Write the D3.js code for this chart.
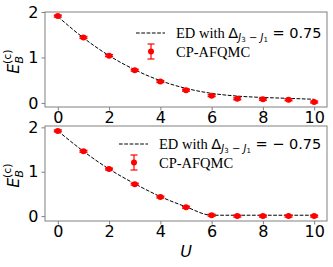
<!DOCTYPE html>
<html>
<head>
<meta charset="utf-8">
<script src="https://cdn.jsdelivr.net/npm/d3@7"></script>
<style>
  body { margin: 0; background: #fff; }
  text { fill: #000; }
</style>
</head>
<body>
<svg id="chart" width="333" height="267"></svg>
<script>
// --- data ---
const uValues = [0, 1, 2, 3, 4, 5, 6, 7, 8, 9, 10];

// Delta_{J3-J1} = 0.75
const edPos  = [1.90, 1.43, 1.04, 0.73, 0.49, 0.32, 0.21, 0.15, 0.12, 0.10, 0.08];
const qmcPos = [1.91, 1.44, 1.04, 0.72, 0.47, 0.28, 0.16, 0.09, 0.08, 0.07, 0.02];
const errPos = [0.02, 0.02, 0.02, 0.02, 0.02, 0.02, 0.02, 0.02, 0.02, 0.02, 0.02];

// Delta_{J3-J1} = -0.75
const edNeg  = [1.92, 1.46, 1.06, 0.73, 0.44, 0.21, 0.02, 0.02, 0.02, 0.02, 0.02];
const qmcNeg = [1.92, 1.46, 1.06, 0.72, 0.43, 0.20, 0.02, 0.00, 0.00, 0.00, 0.00];
const errNeg = [0.02, 0.02, 0.02, 0.02, 0.02, 0.02, 0.02, 0.02, 0.02, 0.02, 0.02];

const xTicks = [0, 2, 4, 6, 8, 10];
const yTicks = [0, 1, 2];

const svg = d3.select('#chart');
const frameColor = '#808080';
const sans = 'DejaVu Sans, sans-serif';
const serif = 'Liberation Serif, Times New Roman, serif';

function drawPanel(opt) {
  const { top, bottom, yDomain, ed, qmc, err, delta, legendTop, legendDx } = opt;
  const left = 45, right = 327;

  const x = d3.scaleLinear().domain([-0.5, 10.5]).range([left, right]);
  const y = d3.scaleLinear().domain(yDomain).range([bottom, top]);

  const g = svg.append('g');

  // axes
  const xAxis = g.append('g')
    .attr('transform', `translate(0,${bottom})`)
    .call(d3.axisBottom(x).tickValues(xTicks).tickFormat(d3.format('d')).tickSize(3.5).tickPadding(1.5));
  const yAxis = g.append('g')
    .attr('transform', `translate(${left},0)`)
    .call(d3.axisLeft(y).tickValues(yTicks).tickFormat(d3.format('d')).tickSize(3.5).tickPadding(3));
  [xAxis, yAxis].forEach(a => {
    a.select('.domain').remove();
    a.selectAll('line').attr('stroke', frameColor);
    a.selectAll('text')
      .style('font-family', sans)
      .style('font-size', '16px')
      .attr('fill', '#000');
  });

  // ED dashed curve
  const line = d3.line()
    .x((d, i) => x(uValues[i]))
    .y(d => y(d))
    .curve(d3.curveMonotoneX);
  g.append('path')
    .datum(ed)
    .attr('d', line)
    .attr('fill', 'none')
    .attr('stroke', '#000')
    .attr('stroke-width', 1)
    .attr('stroke-dasharray', '3.7,1.6');

  // CP-AFQMC points with error bars
  const pts = g.append('g').selectAll('g')
    .data(qmc)
    .join('g');
  pts.append('line')
    .attr('x1', (d, i) => x(uValues[i])).attr('x2', (d, i) => x(uValues[i]))
    .attr('y1', (d, i) => y(d - err[i])).attr('y2', (d, i) => y(d + err[i]))
    .attr('stroke', 'red').attr('stroke-width', 1.5);
  [-1, 1].forEach(s => {
    pts.append('line')
      .attr('x1', (d, i) => x(uValues[i]) - 4).attr('x2', (d, i) => x(uValues[i]) + 4)
      .attr('y1', (d, i) => y(d + s * err[i])).attr('y2', (d, i) => y(d + s * err[i]))
      .attr('stroke', 'red').attr('stroke-width', 1.5);
  });
  pts.append('circle')
    .attr('cx', (d, i) => x(uValues[i]))
    .attr('cy', d => y(d))
    .attr('r', 3)
    .attr('fill', 'red');

  // frame
  g.append('rect')
    .attr('x', left).attr('y', top)
    .attr('width', right - left).attr('height', bottom - top)
    .attr('fill', 'none')
    .attr('stroke', frameColor)
    .attr('stroke-width', 1);

  // legend
  const lx = legendDx;
  const ly = legendTop;
  g.append('line')
    .attr('x1', lx).attr('x2', lx + 29)
    .attr('y1', ly).attr('y2', ly)
    .attr('stroke', '#000').attr('stroke-width', 1)
    .attr('stroke-dasharray', '3.7,1.6');
  const t = g.append('text')
    .attr('x', lx + 40).attr('y', ly + 4.5)
    .style('font-size', '14.5px');
  t.append('tspan').style('font-family', serif).text('ED with ');
  t.append('tspan').style('font-family', sans).text('Δ');
  t.append('tspan').style('font-family', sans).style('font-style', 'italic')
    .style('font-size', '10px').attr('dy', 3).text('J');
  t.append('tspan').style('font-family', sans).style('font-size', '7px').attr('dy', 1.2).text('3');
  t.append('tspan').style('font-family', sans).style('font-size', '10px').attr('dy', -1.2).text(' − ');
  t.append('tspan').style('font-family', sans).style('font-style', 'italic')
    .style('font-size', '10px').text('J');
  t.append('tspan').style('font-family', sans).style('font-size', '7px').attr('dy', 1.2).text('1');
  t.append('tspan').style('font-family', sans).attr('dy', -4.2)
    .text(delta < 0 ? ' = − ' + Math.abs(delta) : ' = ' + delta);

  const hx = lx + 15, hy = ly + 18.5;
  g.append('line').attr('x1', hx).attr('x2', hx).attr('y1', hy - 7.5).attr('y2', hy + 7.5)
    .attr('stroke', 'red').attr('stroke-width', 1.2);
  [-7.5, 7.5].forEach(o => g.append('line')
    .attr('x1', hx - 3.5).attr('x2', hx + 3.5).attr('y1', hy + o).attr('y2', hy + o)
    .attr('stroke', 'red').attr('stroke-width', 1.2));
  g.append('circle').attr('cx', hx).attr('cy', hy).attr('r', 3).attr('fill', 'red');
  g.append('text')
    .attr('x', lx + 40).attr('y', hy + 5.5)
    .style('font-family', serif).style('font-size', '14.5px')
    .text('CP-AFQMC');

  // y label  E_B^(c)
  const yl = g.append('text')
    .attr('transform', `translate(19,${(top + bottom) / 2 + 2}) rotate(-90)`)
    .attr('text-anchor', 'middle')
    .style('font-family', sans).style('font-size', '16px');
  yl.append('tspan').style('font-style', 'italic').text('E');
  yl.append('tspan').style('font-style', 'italic').style('font-size', '11px').attr('dy', 4).text('B');
  yl.append('tspan').style('font-size', '11px').attr('dx', -8).attr('dy', -12).text('(c)');
}

drawPanel({ top: 12, bottom: 107, yDomain: [-0.09, 2.0], ed: edPos, qmc: qmcPos, err: errPos,
  delta: 0.75, legendTop: 33, legendDx: 136 });
drawPanel({ top: 126, bottom: 221, yDomain: [-0.11, 2.03], ed: edNeg, qmc: qmcNeg, err: errNeg,
  delta: -0.75, legendTop: 144, legendDx: 119 });

// x label
svg.append('text')
  .attr('x', 186).attr('y', 257)
  .attr('text-anchor', 'middle')
  .style('font-family', sans).style('font-size', '16px').style('font-style', 'italic')
  .text('U');
</script>
</body>
</html>
